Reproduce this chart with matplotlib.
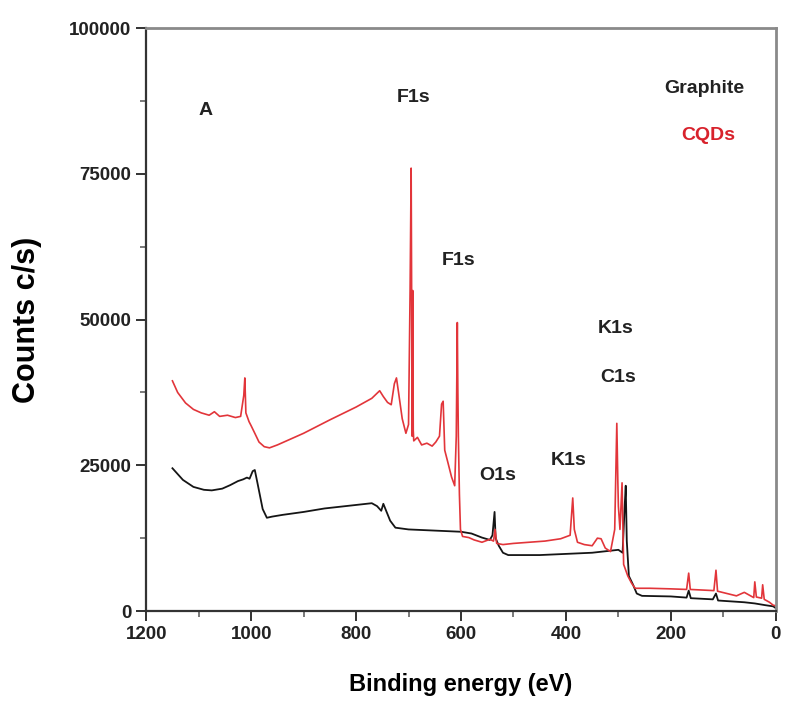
import numpy as np
import matplotlib.pyplot as plt
from matplotlib.ticker import MultipleLocator

plt.rcParams['font.family'] = ['Liberation Sans', 'DejaVu Sans']

# graphite survey spectrum (binding energy eV, counts c/s)
e_graphite = [1150, 1130, 1110, 1090, 1075, 1055, 1040, 1025, 1015, 1008, 1003,
              997, 993, 988, 978, 970, 960, 940, 900, 860, 820, 790, 770, 760,
              752, 748, 744, 735, 725, 700, 650, 600, 580, 560, 545, 540, 536,
              534, 528, 520, 510, 450, 400, 350, 310, 300, 292, 288, 286, 284,
              280, 272, 265, 255, 200, 170, 166, 162, 120, 114, 110, 60, 40, 20,
              5, 0]
c_graphite = [24500, 22500, 21300, 20800, 20700, 21000, 21600, 22300, 22600,
              22900, 22700, 24000, 24200, 22000, 17500, 16000, 16200, 16500,
              17000, 17600, 18000, 18300, 18500, 18000, 17200, 18400, 17500,
              15500, 14300, 14000, 13800, 13600, 13300, 12600, 12200, 13000,
              17000, 12500, 11200, 10000, 9600, 9600, 9800, 10000, 10400, 10500,
              10000, 18000, 21500, 12000, 6000, 4500, 3000, 2600, 2500, 2300,
              3500, 2200, 2000, 3000, 1800, 1500, 1300, 1000, 800, 500]

# CQDs survey spectrum
e_cqd = [1150, 1140, 1125, 1110, 1095, 1080, 1070, 1060, 1045, 1030, 1020, 1014,
         1012, 1010, 1004, 1000, 993, 985, 975, 965, 950, 900, 850, 800, 770,
         755, 748, 740, 733, 727, 723, 719, 712, 705, 700, 697, 695, 693, 692,
         691, 690, 683, 675, 665, 655, 648, 641, 637, 634, 631, 625, 618, 612,
         609, 607, 606, 605, 603, 601, 597, 585, 575, 560, 545, 538, 535, 532,
         520, 500, 470, 440, 410, 392, 387, 384, 378, 365, 350, 340, 333, 325,
         315, 307, 303, 301, 300, 297, 293, 290, 282, 275, 268, 240, 200, 170,
         166, 163, 118, 114, 111, 75, 60, 42, 40, 37, 27, 25, 22, 12, 5, 0]
c_cqd = [39500, 37500, 35700, 34600, 34000, 33600, 34200, 33400, 33600, 33200,
         33400, 37000, 40000, 34000, 32500, 31800, 30500, 29000, 28200, 28000,
         28500, 30500, 32800, 35000, 36500, 37800, 36800, 35800, 35400, 39000,
         40000, 37500, 33000, 30500, 32000, 55000, 76000, 30000, 55000, 31000,
         29200, 29800, 28500, 28800, 28300, 29000, 30000, 35500, 36000, 27600,
         25500, 23000, 21500, 30000, 49500, 38000, 30000, 20000, 14000, 12800,
         12600, 12200, 11800, 12300, 12000, 14000, 11600, 11400, 11600, 11800,
         12000, 12400, 13000, 19400, 14000, 11800, 11400, 11200, 12500, 12400,
         10800, 10200, 14000, 32200, 22000, 18000, 14000, 22000, 8000, 6000,
         4800, 3900, 3900, 3800, 3700, 6500, 3700, 3500, 7000, 3400, 2600, 3200,
         2300, 5000, 2400, 2200, 4500, 2000, 1500, 1000, 900]

peak_labels = ['A', 'F1s', 'F1s', 'K1s', 'C1s', 'O1s', 'K1s']
label_e = [1087, 690, 605, 305, 300, 530, 395]
label_c = [85900, 88200, 60200, 48500, 40100, 23300, 25900]

fig = plt.figure(figsize=(7.86, 7.08), dpi=100)
ax = fig.add_axes([0.186, 0.137, 0.801, 0.823])

ax.plot(e_graphite, c_graphite, color='#151515', lw=1.3)
ax.plot(e_cqd, c_cqd, color='#e2353a', lw=1.2)

for t, x, y in zip(peak_labels, label_e, label_c):
    ax.text(x, y, t, fontsize=14, fontweight='bold', ha='center', va='center',
            color='#222222')
ax.text(137, 89700, 'Graphite', fontsize=14, fontweight='bold', ha='center',
        va='center', color='#222222')
ax.text(128, 81600, 'CQDs', fontsize=14, fontweight='bold', ha='center',
        va='center', color='#d8222c')

ax.set_xlim(1200, 0)
ax.set_ylim(0, 100000)
ax.xaxis.set_major_locator(MultipleLocator(200))
ax.xaxis.set_minor_locator(MultipleLocator(100))
ax.yaxis.set_major_locator(MultipleLocator(25000))
ax.yaxis.set_minor_locator(MultipleLocator(12500))
ax.tick_params(which='major', direction='out', length=7, width=1.3, labelsize=13.5,
               colors='#222222')
ax.tick_params(which='minor', direction='out', length=4, width=1.1, colors='#555555')
for lb in ax.get_xticklabels() + ax.get_yticklabels():
    lb.set_fontweight('bold')

for s in ['left', 'bottom']:
    ax.spines[s].set_color('#333333')
    ax.spines[s].set_linewidth(1.6)
for s in ['top', 'right']:
    ax.spines[s].set_color('#8a8a8a')
    ax.spines[s].set_linewidth(2)

ax.set_xlabel('Binding energy (eV)', fontsize=17, fontweight='bold', labelpad=22)
ax.set_ylabel('Counts c/s)', fontsize=22, fontweight='bold', labelpad=20)

fig.savefig('out.png', dpi=100)
